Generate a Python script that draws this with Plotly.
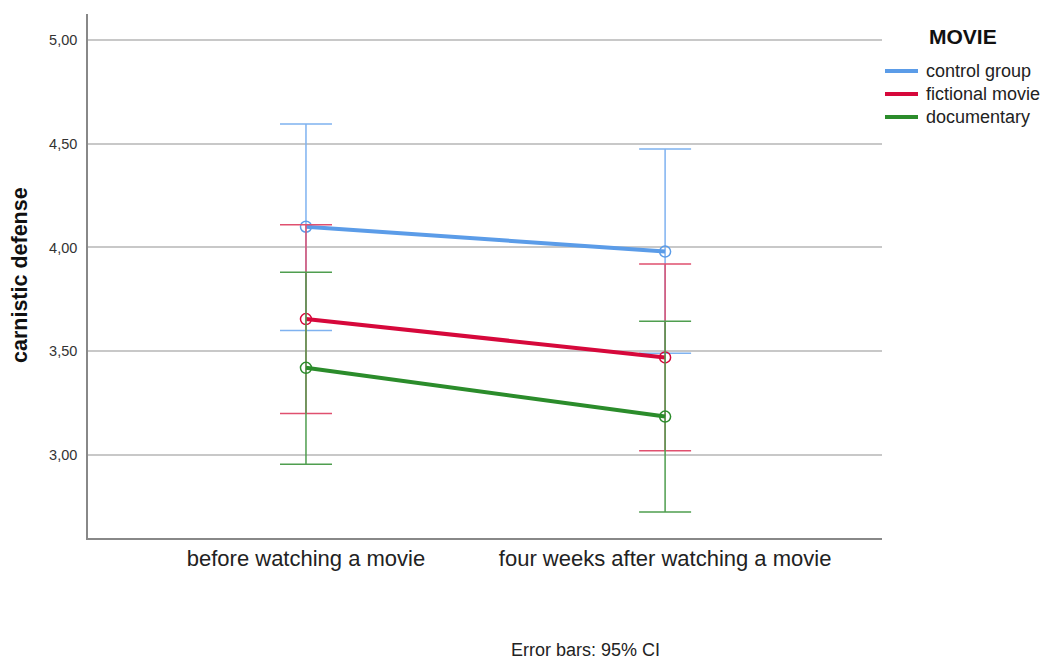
import plotly.graph_objects as go

# Time points and group means with 95% CI bounds for carnistic defense
time_points = ["before watching a movie", "four weeks after watching a movie"]
groups = ["control group", "fictional movie", "documentary"]

control_mean = [4.10, 3.98]
control_upper = [4.595, 4.475]
control_lower = [3.60, 3.49]

fictional_mean = [3.655, 3.47]
fictional_upper = [4.11, 3.92]
fictional_lower = [3.20, 3.02]

documentary_mean = [3.42, 3.185]
documentary_upper = [3.88, 3.645]
documentary_lower = [2.955, 2.725]

y_ticks = [3.0, 3.5, 4.0, 4.5, 5.0]
y_tick_text = ["3,00", "3,50", "4,00", "4,50", "5,00"]

line_colors = ["#5B9CE8", "#D6083B", "#2B8C2B"]
bar_colors = ["#7FB2F0", "#E0506F", "#4F9E4F"]

series = [
    (control_mean, control_upper, control_lower),
    (fictional_mean, fictional_upper, fictional_lower),
    (documentary_mean, documentary_upper, documentary_lower),
]

x_pos = [0, 1]

# Plot area geometry (pixels) used to place the hand-built legend
M_L, M_R, M_T, M_B = 88, 158, 14, 121
W, H = 1040, 659
PW, PH = W - M_L - M_R, H - M_T - M_B


def px_x(px):
    return (px - M_L) / PW


def px_y(py):
    return (H - M_B - py) / PH


fig = go.Figure()

for name, (mean, upper, lower), lc, bc in zip(groups, series, line_colors, bar_colors):
    fig.add_trace(go.Scatter(
        x=x_pos, y=mean, mode="lines+markers", name=name, showlegend=False,
        line=dict(color=lc, width=4),
        marker=dict(symbol="circle-open", size=11, color=lc, line=dict(width=1.5)),
        error_y=dict(
            type="data", symmetric=False,
            array=[u - m for u, m in zip(upper, mean)],
            arrayminus=[m - l for m, l in zip(mean, lower)],
            color=bc, thickness=1.5, width=26,
        ),
    ))

shapes = []
annotations = [
    dict(
        text="<b>MOVIE</b>", xref="paper", yref="paper",
        x=px_x(927), y=px_y(36), xanchor="left", yanchor="middle",
        showarrow=False, font=dict(size=21, color="#111111"),
    ),
    dict(
        text="<b>carnistic defense</b>", textangle=-90,
        xref="paper", yref="paper", x=px_x(20), y=px_y(275),
        xanchor="center", yanchor="middle", showarrow=False,
        font=dict(size=21.5, color="#111111"),
    ),
    dict(
        text="Error bars: 95% CI",
        xref="paper", yref="paper", x=px_x(585), y=px_y(650),
        xanchor="center", yanchor="middle", showarrow=False,
        font=dict(size=18, color="#222222"),
    ),
]

# Legend: line sample plus label for each group
for i, (name, lc) in enumerate(zip(groups, line_colors)):
    yy = px_y(71 + 23 * i)
    shapes.append(dict(
        type="line", xref="paper", yref="paper",
        x0=px_x(885), x1=px_x(918), y0=yy, y1=yy,
        line=dict(color=lc, width=4),
    ))
    annotations.append(dict(
        text=name, xref="paper", yref="paper",
        x=px_x(924), y=yy, xanchor="left", yanchor="middle",
        showarrow=False, font=dict(size=18, color="#222222"),
    ))

fig.update_layout(
    width=W, height=H,
    margin=dict(l=M_L, r=M_R, t=M_T, b=M_B),
    plot_bgcolor="white", paper_bgcolor="white",
    font=dict(family="Liberation Sans, Arial, sans-serif", color="#222222"),
    showlegend=False,
    xaxis=dict(
        range=[-0.607, 1.604],
        tickmode="array", tickvals=x_pos, ticktext=time_points,
        tickfont=dict(size=22, color="#222222"),
        showgrid=False, zeroline=False,
        showline=True, linecolor="#888888", linewidth=1.5,
        ticks="", ticklen=0,
    ),
    yaxis=dict(
        range=[2.6, 5.125],
        tickmode="array", tickvals=y_ticks, ticktext=y_tick_text,
        tickfont=dict(size=14.5, color="#333333"),
        ticklabelstandoff=6,
        showgrid=True, gridcolor="#C8C8C8", gridwidth=1.5,
        zeroline=False,
        showline=True, linecolor="#888888", linewidth=1.5,
        ticks="", ticklen=0,
    ),
    shapes=shapes,
    annotations=annotations,
)

fig.write_html("out.html")
